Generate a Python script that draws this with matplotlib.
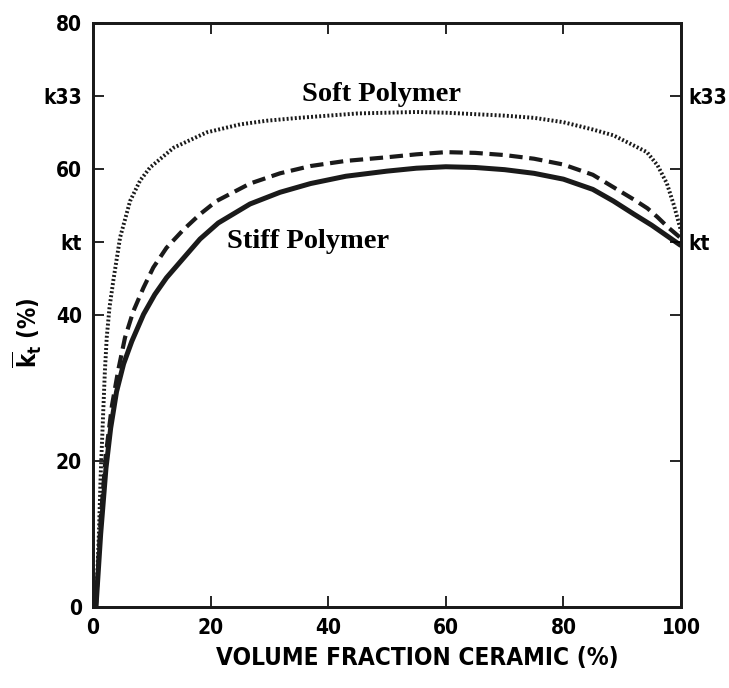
import matplotlib
matplotlib.use("Agg")
import matplotlib.pyplot as plt

# volume fraction ceramic (%) vs kt (%)
stiff_x = [0.5, 1.3, 2.2, 3.0, 4.0, 5.2, 6.6, 8.6, 10.5, 12.5, 15.4, 18.2, 21.3, 26.7, 31.8, 37, 43, 50, 55, 60, 65, 70, 75, 80, 85, 88.5, 92, 95, 97.5, 100]
stiff_y = [0, 10, 19, 24.5, 29.5, 33.3, 36.4, 40.1, 42.8, 45.1, 47.8, 50.4, 52.6, 55.2, 56.8, 58.0, 59.0, 59.7, 60.1, 60.3, 60.2, 59.9, 59.4, 58.6, 57.2, 55.6, 53.8, 52.3, 50.9, 49.5]

mid_x = [0.5, 1.3, 2.2, 3.2, 4.3, 5.44, 6.85, 8.56, 10.25, 12.5, 15.4, 18.2, 21, 26.7, 31.8, 37, 43, 50, 55, 60, 65, 70, 75, 80, 85, 88.5, 92, 94.3, 96, 97.8, 100]
mid_y = [0, 12, 21, 27.5, 32.5, 36.9, 40.5, 43.7, 46.5, 49.2, 51.7, 53.8, 55.6, 58.0, 59.4, 60.4, 61.1, 61.6, 62.0, 62.3, 62.2, 61.9, 61.4, 60.6, 59.2, 57.5, 55.8, 54.6, 53.4, 52, 50.5]

soft_x = [0.5, 1.0, 1.3, 1.7, 2.0, 2.33, 2.8, 3.45, 4.6, 6.3, 8.0, 9.7, 13.7, 19.3, 25, 29.5, 35, 40, 45, 50, 55, 60, 65, 70, 75, 80, 85, 88.5, 91, 94.2, 96, 97.6, 98.8, 100]
soft_y = [0, 10, 18, 26, 32, 36.9, 41, 44.7, 50.6, 55.6, 58.4, 60.2, 62.9, 65, 66.1, 66.6, 67.0, 67.3, 67.6, 67.7, 67.8, 67.7, 67.5, 67.3, 67.0, 66.4, 65.4, 64.6, 63.6, 62.3, 60.5, 58, 55, 51.5]

left_ticks = [0, 20, 40, 50, 60, 70, 80]
left_labels = ["0", "20", "40", "kt", "60", "k33", "80"]
right_ticks = [20, 40, 50, 60, 70]
right_labels = ["", "", "kt", "", "k33"]
x_ticks = [0, 20, 40, 60, 80, 100]

sans = ["DejaVu Sans"]
serif = ["Liberation Serif", "DejaVu Serif"]
ink = "#1a1a1a"

fig = plt.figure(figsize=(7.29, 6.88), dpi=100)
ax = fig.add_axes([0.1276, 0.1177, 0.8066, 0.849])

ax.plot(stiff_x, stiff_y, color=ink, lw=3.6, solid_capstyle="butt", solid_joinstyle="round")
ax.plot(mid_x, mid_y, color=ink, lw=3.0, linestyle=(0, (3.2, 1.6)))
ax.plot(soft_x, soft_y, color=ink, lw=2.8, linestyle=(0, (0.5, 0.55)))

ax.set_xlim(0, 100)
ax.set_ylim(0, 80)

ax.set_xticks(x_ticks)
ax.set_yticks(left_ticks)
ax.set_yticklabels(left_labels)
ax.tick_params(direction="in", length=8, width=1.2, top=True, pad=8, labelsize=15)
for lab in ax.get_xticklabels() + ax.get_yticklabels():
    lab.set_family(sans)
    lab.set_fontweight("bold")
    lab.set_fontstretch("condensed")

ax2 = ax.twinx()
ax2.set_ylim(0, 80)
ax2.set_yticks(right_ticks)
ax2.set_yticklabels(right_labels)
ax2.tick_params(direction="in", length=8, width=1.2, pad=5, labelsize=15)
for lab in ax2.get_yticklabels():
    lab.set_family(sans)
    lab.set_fontweight("bold")
    lab.set_fontstretch("condensed")

for a in (ax, ax2):
    for s in a.spines.values():
        s.set_linewidth(2)
        s.set_color(ink)

ax.set_xlabel("VOLUME FRACTION CERAMIC (%)", family=sans, fontweight="bold", fontstretch="condensed", fontsize=17.5)
ax.xaxis.set_label_coords(0.551, -0.066)
ax.set_ylabel(r"$\mathregular{\overline{k}_t}$ (%)", family=sans, fontweight="bold", fontstretch="condensed", fontsize=17)
ax.yaxis.set_label_coords(-0.083, 0.47)

ax.text(49, 70.2, "Soft Polymer", family=serif, fontweight="bold", fontsize=20.5, ha="center", va="center")
ax.text(36.6, 50, "Stiff Polymer", family=serif, fontweight="bold", fontsize=20.5, ha="center", va="center")

fig.savefig("out.png", dpi=100)
